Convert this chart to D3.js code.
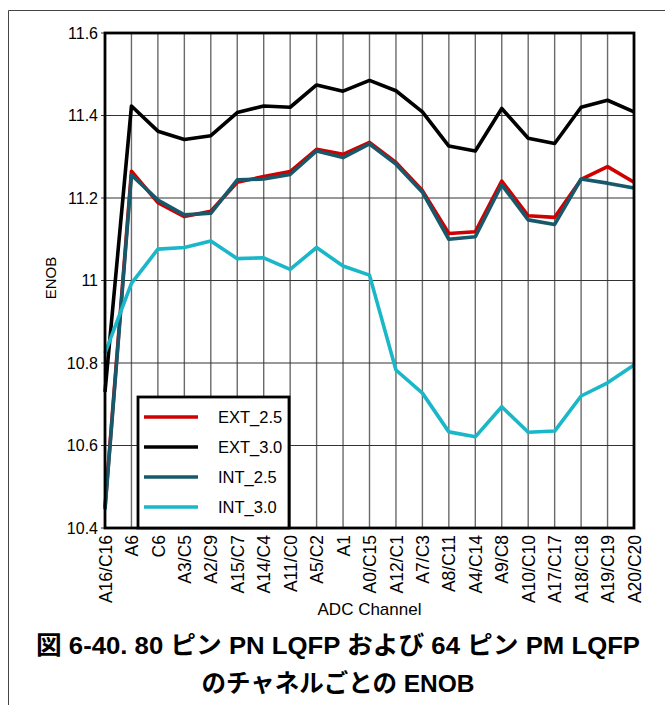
<!DOCTYPE html>
<html>
<head>
<meta charset="utf-8">
<script src="https://cdn.jsdelivr.net/npm/d3@7"></script>
<style>
  html, body { margin: 0; padding: 0; background: #fff; }
  svg { display: block; }
  text { font-family: "Liberation Sans", Arial, sans-serif; fill: #000; }
  .cap { font-family: "Liberation Sans", "Noto Sans CJK JP", sans-serif; font-weight: bold; }
</style>
</head>
<body>
<svg id="chart" width="665" height="705"></svg>
<script>
// ADC channels along the x axis
const channels = ["A16/C16", "A6", "C6", "A3/C5", "A2/C9", "A15/C7", "A14/C4", "A11/C0",
  "A5/C2", "A1", "A0/C15", "A12/C1", "A7/C3", "A8/C11", "A4/C14", "A9/C8",
  "A10/C10", "A17/C17", "A18/C18", "A19/C19", "A20/C20"];

// ENOB per channel for each reference configuration
const ext25 = [10.45, 11.265, 11.189, 11.155, 11.168, 11.238, 11.252, 11.264, 11.318, 11.306,
  11.335, 11.286, 11.218, 11.114, 11.118, 11.241, 11.157, 11.153, 11.245, 11.276, 11.238];
const ext30 = [10.73, 11.423, 11.362, 11.342, 11.351, 11.407, 11.423, 11.420, 11.474, 11.459,
  11.485, 11.460, 11.409, 11.326, 11.314, 11.417, 11.345, 11.332, 11.420, 11.437, 11.409];
const int25 = [10.445, 11.256, 11.195, 11.159, 11.163, 11.244, 11.246, 11.257, 11.314, 11.298,
  11.331, 11.282, 11.214, 11.100, 11.106, 11.232, 11.147, 11.136, 11.246, 11.236, 11.224];
const int30 = [10.824, 10.993, 11.076, 11.080, 11.096, 11.053, 11.055, 11.027, 11.080, 11.035,
  11.013, 10.783, 10.727, 10.633, 10.621, 10.694, 10.632, 10.635, 10.720, 10.752, 10.795];

const seriesNames = ["EXT_2.5", "EXT_3.0", "INT_2.5", "INT_3.0"];
const seriesColors = ["#d00000", "#000000", "#17596b", "#1ab7c9"];
const yTicks = [10.4, 10.6, 10.8, 11, 11.2, 11.4, 11.6];

const series = [ext25, ext30, int25, int30].map((v, i) => ({ name: seriesNames[i], color: seriesColors[i], values: v }));

const svg = d3.select("#chart");
const plot = { left: 105, right: 634, top: 33, bottom: 528 };

const x = d3.scalePoint().domain(channels).range([plot.left, plot.right]);
const y = d3.scaleLinear().domain([10.4, 11.6]).range([plot.bottom, plot.top]);

// outer frame (top and left edges)
svg.append("path")
  .attr("d", `M8.5,705 V10.5 H665`)
  .attr("fill", "none").attr("stroke", "#444").attr("stroke-width", 1);

// vertical grid
svg.append("g").selectAll("line").data(channels).join("line")
  .attr("x1", d => x(d)).attr("x2", d => x(d))
  .attr("y1", plot.top).attr("y2", plot.bottom)
  .attr("stroke", "#6a6a6a").attr("stroke-width", 1.4);

// horizontal grid
svg.append("g").selectAll("line").data(yTicks).join("line")
  .attr("x1", plot.left - 4).attr("x2", plot.right)
  .attr("y1", d => y(d)).attr("y2", d => y(d))
  .attr("stroke", "#333").attr("stroke-width", 1);

// y axis labels
const yAxis = d3.axisLeft(y).tickValues(yTicks).tickSize(0).tickPadding(7)
  .tickFormat(d => d3.format("")(+d.toFixed(1)));
const ya = svg.append("g").attr("transform", `translate(${plot.left},0)`).call(yAxis);
ya.select(".domain").remove();
ya.selectAll("text").attr("font-size", 16).attr("font-family", "Liberation Sans, Arial, sans-serif").attr("fill", "#000");

// x axis labels, rotated
const xAxis = d3.axisBottom(x).tickSize(0).tickPadding(0);
const xa = svg.append("g").attr("transform", `translate(0,${plot.bottom})`).call(xAxis);
xa.select(".domain").remove();
xa.selectAll("text")
  .attr("font-size", 17.5).attr("font-family", "Liberation Sans, Arial, sans-serif").attr("fill", "#000")
  .attr("transform", "rotate(-90)")
  .attr("text-anchor", "end")
  .attr("x", -7).attr("y", 0).attr("dy", "0.35em");

// series lines
const line = d3.line().x((d, i) => x(channels[i])).y(d => y(d));
svg.append("g").selectAll("path").data(series).join("path")
  .attr("d", d => line(d.values))
  .attr("fill", "none")
  .attr("stroke", d => d.color)
  .attr("stroke-width", 3.6)
  .attr("stroke-linejoin", "round");

// plot border
svg.append("rect")
  .attr("x", plot.left).attr("y", plot.top)
  .attr("width", plot.right - plot.left).attr("height", plot.bottom - plot.top)
  .attr("fill", "none").attr("stroke", "#000").attr("stroke-width", 2.8);

// legend
const lg = svg.append("g");
lg.append("rect")
  .attr("x", 138).attr("y", 397).attr("width", 151).attr("height", plot.bottom - 397)
  .attr("fill", "#fff").attr("stroke", "#000").attr("stroke-width", 2.8);
const items = lg.selectAll("g.item").data(series).join("g")
  .attr("transform", (d, i) => `translate(0,${417 + i * 30})`);
items.append("line")
  .attr("x1", 144).attr("x2", 198).attr("y1", 0).attr("y2", 0)
  .attr("stroke", d => d.color).attr("stroke-width", 3.6);
items.append("text")
  .attr("x", 218).attr("y", 0).attr("dy", "0.35em")
  .attr("font-size", 16.5)
  .text(d => d.name);

// axis titles
svg.append("text")
  .attr("transform", "translate(56,278) rotate(-90)")
  .attr("text-anchor", "middle").attr("font-size", 15)
  .text("ENOB");
svg.append("text")
  .attr("x", (plot.left + plot.right) / 2).attr("y", 615)
  .attr("text-anchor", "middle").attr("font-size", 17)
  .text("ADC Channel");

// caption
svg.append("text").attr("class", "cap")
  .attr("x", 338).attr("y", 654).attr("text-anchor", "middle").attr("font-size", 24.5)
  .attr("textLength", 604).attr("lengthAdjust", "spacingAndGlyphs")
  .text("図 6-40. 80 ピン PN LQFP および 64 ピン PM LQFP");
svg.append("text").attr("class", "cap")
  .attr("x", 338).attr("y", 692).attr("text-anchor", "middle").attr("font-size", 24.5)
  .text("のチャネルごとの ENOB");
</script>
</body>
</html>
